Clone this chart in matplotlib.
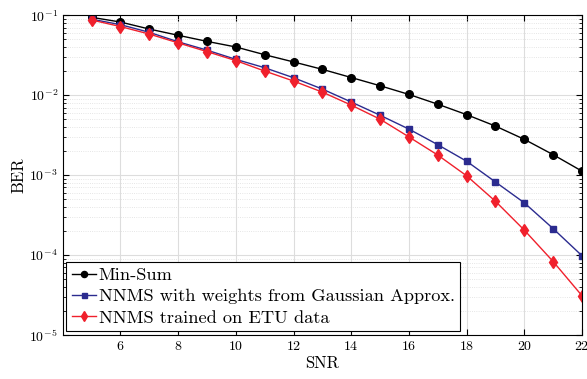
import numpy as np
import matplotlib
matplotlib.use('Agg')
import matplotlib.pyplot as plt

plt.rcParams['font.family'] = 'serif'
plt.rcParams['font.serif'] = ['cmr10', 'DejaVu Serif']
plt.rcParams['mathtext.fontset'] = 'cm'
plt.rcParams['axes.formatter.use_mathtext'] = True

snr = np.arange(5, 23)
ber_minsum = [0.094, 0.082, 0.067, 0.056, 0.047, 0.040, 0.032, 0.026, 0.021,
              0.0166, 0.0131, 0.0102, 0.0077, 0.0057, 0.0041, 0.0028, 0.0018, 0.00112]
ber_gauss = [0.089, 0.076, 0.061, 0.0464, 0.0365, 0.028, 0.022, 0.0165, 0.0119,
             0.0082, 0.0056, 0.00376, 0.0024, 0.00149, 0.00082, 0.00045, 0.000214, 9.8e-5]
ber_etu = [0.087, 0.072, 0.058, 0.045, 0.035, 0.027, 0.020, 0.015, 0.0109,
           0.0075, 0.0050, 0.0030, 0.00178, 0.00098, 0.00047, 0.000205, 8.3e-5, 3.1e-5]

labels = ['Min-Sum', 'NNMS with weights from Gaussian Approx.', 'NNMS trained on ETU data']

fig = plt.figure(figsize=(5.87, 3.79), dpi=100)
ax = fig.add_axes([0.107, 0.116, 0.8845, 0.844])

ax.semilogy(snr, ber_minsum, '-o', color='black', markersize=5.5, linewidth=1.0, label=labels[0])
ax.semilogy(snr, ber_gauss, '-s', color='#2b2b8f', markersize=4.5, linewidth=1.0, label=labels[1])
ax.semilogy(snr, ber_etu, '-d', color='#f0202c', markersize=6, linewidth=1.0, label=labels[2])

ax.set_xlim(4, 22)
ax.set_ylim(1e-5, 1e-1)
ax.set_xticks([6, 8, 10, 12, 14, 16, 18, 20, 22])
ax.grid(which='major', color='#dddddd', linestyle='-', linewidth=0.8)
ax.grid(which='minor', color='#dddddd', linestyle=':', linewidth=0.6)
ax.set_axisbelow(True)
ax.tick_params(which='both', direction='in', top=True, right=True, labelsize=10)
ax.tick_params(which='major', length=4)
ax.tick_params(which='minor', length=2)
for s in ax.spines.values():
    s.set_linewidth(0.8)

ax.set_xlabel('SNR', fontsize=12, labelpad=2)
ax.set_ylabel('BER', fontsize=12, labelpad=2)

leg = ax.legend(loc='lower left', bbox_to_anchor=(0.007, 0.012), fontsize=13.2,
                handlelength=1.3, handletextpad=0.15, borderpad=0.3, labelspacing=0.3,
                borderaxespad=0, fancybox=False, framealpha=1, markerscale=0.8)
leg.get_frame().set_edgecolor('black')
leg.get_frame().set_linewidth(0.8)

fig.savefig('out.png', dpi=100)
